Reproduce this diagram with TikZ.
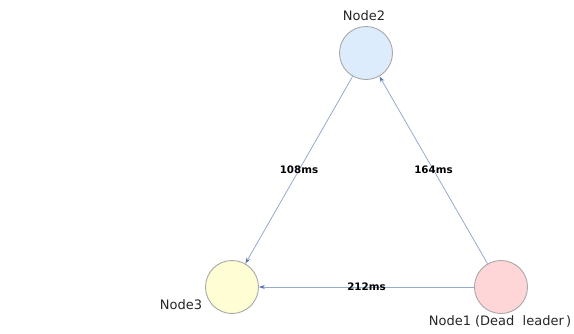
\documentclass[tikz,border=0pt]{standalone}
\usepackage{fontspec}
\setmainfont{DejaVu Sans}
\usetikzlibrary{arrows.meta}
\definecolor{edgeblue}{RGB}{150,172,205}
\definecolor{tipblue}{RGB}{90,115,170}
\definecolor{ringgray}{RGB}{168,168,168}
\definecolor{fillblue}{RGB}{221,236,252}
\definecolor{fillyellow}{RGB}{255,253,212}
\definecolor{fillpink}{RGB}{255,214,216}
\tikzset{
  x=1pt, y=-1pt,
  member/.style={circle, draw=ringgray, line width=0.9pt, minimum size=53pt, inner sep=0pt},
  caption/.style={font=\fontsize{13}{15}\selectfont, text=black!85, inner sep=0pt},
  link/.style={draw=edgeblue, line width=0.8pt, -{Stealth[length=6pt,width=4pt,color=tipblue]}},
  delay/.style={font=\bfseries\fontsize{10.3}{12}\selectfont, text=black, inner sep=1pt}
}
\begin{document}
\begin{tikzpicture}
\useasboundingbox (0,0) rectangle (574,333);
\fill[white] (0,0) rectangle (574,333);

% cluster members
\node[member, fill=fillblue]   (n2) at (366,53)  {};
\node[member, fill=fillyellow] (n3) at (232,287) {};
\node[member, fill=fillpink]   (n1) at (501,287) {};

% member names
\node[caption] (l2) at (364,16)  {Node2};
\node[caption] (l3) at (181,305) {Node3};
\node[caption] (l1) at (500,321) {Node1 (Dead\ \ leader\,)};

% heartbeat links with latencies
\draw[link] (n2) -- node[delay, pos=0.5] {108ms} (n3);
\draw[link] (n1) -- node[delay, pos=0.5] {164ms} (n2);
\draw[link] (n1) -- node[delay, pos=0.5] {212ms} (n3);
\end{tikzpicture}
\end{document}
